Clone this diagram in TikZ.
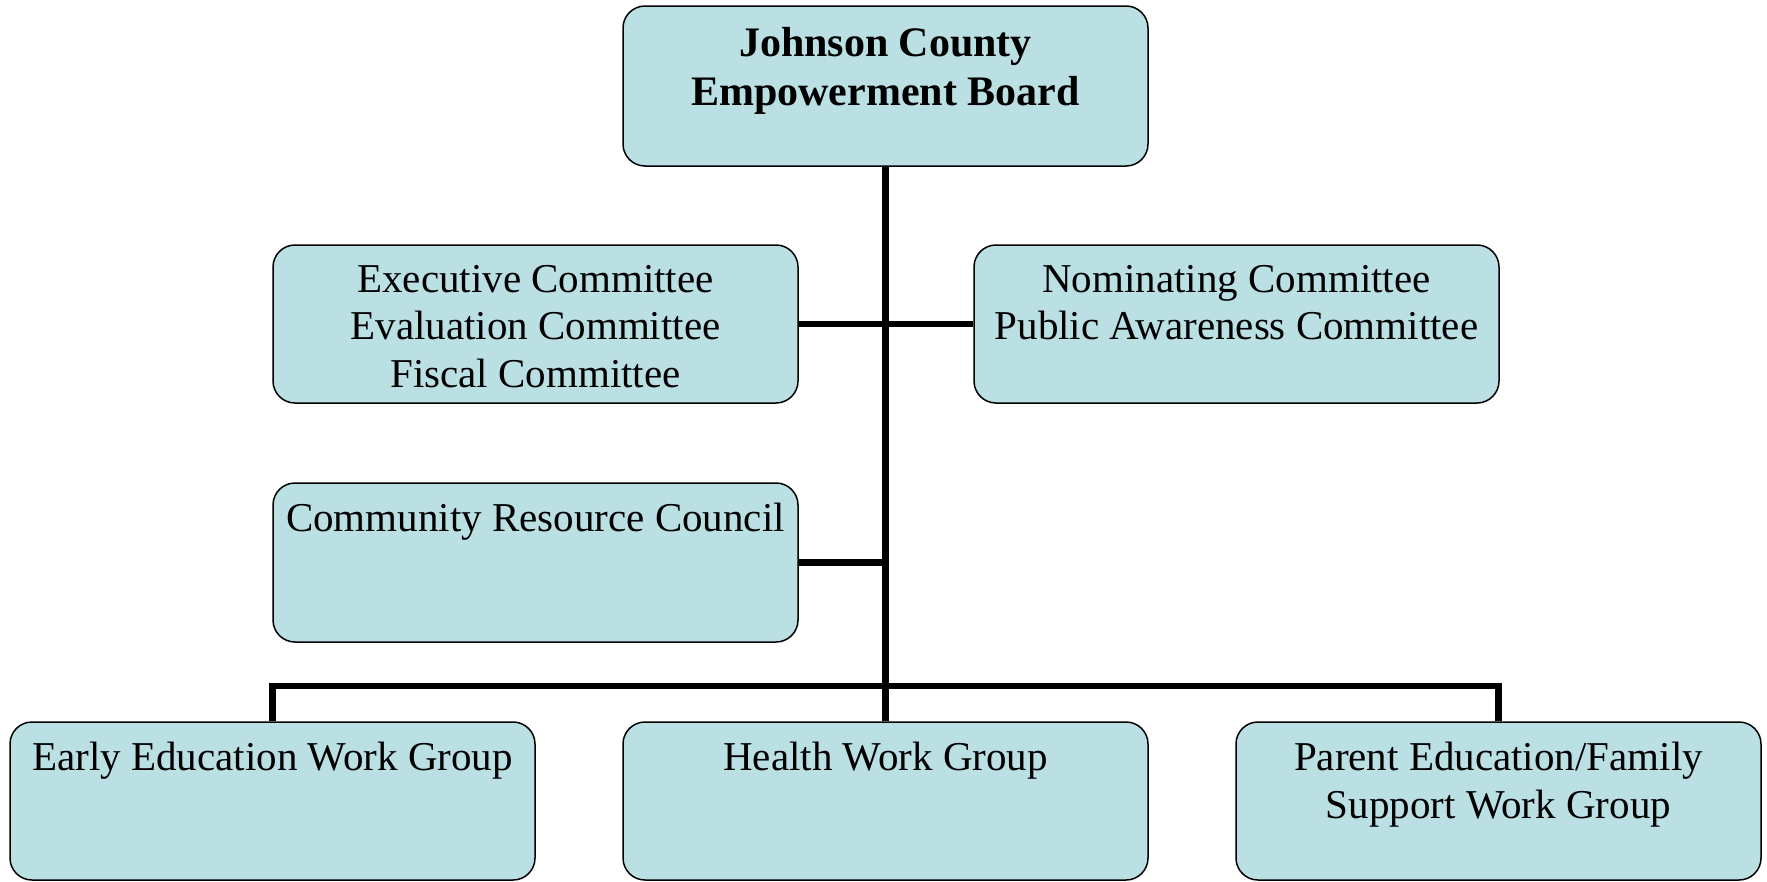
\documentclass[tikz,border=0pt]{standalone}
\usepackage{fontspec}
\setmainfont{Liberation Serif}
\definecolor{boxfill}{RGB}{186,224,228}
\begin{document}
\begin{tikzpicture}[x=1pt,y=-1pt,
  box/.style={draw=black, line width=1.5pt, fill=boxfill, rounded corners=22pt, minimum width=525pt, inner sep=0pt},
  lbl/.style={anchor=north, align=center, inner sep=0pt, font=\fontsize{41}{47.8}\selectfont},
  conn/.style={draw=black, line width=6.3pt}]
\useasboundingbox (0,0) rectangle (1767,881);
\begin{scope}
\clip (0,0) rectangle (1767,881);
\node[box, minimum height=160pt] (top) at (885.5,86) {};
\node[box, minimum height=158pt] (exec) at (535.5,324) {};
\node[box, minimum height=158pt] (nom) at (1236.5,324) {};
\node[box, minimum height=159pt] (comm) at (535.5,562.5) {};
\node[box, minimum height=158pt] (early) at (272.5,801) {};
\node[box, minimum height=158pt] (health) at (885.5,801) {};
\node[box, minimum height=158pt] (parent) at (1498.5,801) {};
\end{scope}
\node[lbl, font=\fontsize{42}{48.5}\selectfont\bfseries] (toplbl) at ([yshift=-22pt]top.north) {Johnson County\\Empowerment Board};
\node[lbl] (execlbl) at ([yshift=-20.5pt]exec.north) {Executive Committee\\Evaluation Committee\\Fiscal Committee};
\node[lbl] (nomlbl) at ([yshift=-20.5pt]nom.north) {Nominating Committee\\Public Awareness Committee};
\node[lbl] (commlbl) at ([yshift=-20.5pt]comm.north) {Community Resource Council};
\node[lbl] (earlylbl) at ([yshift=-20.5pt]early.north) {Early Education Work Group};
\node[lbl] (healthlbl) at ([yshift=-20.5pt]health.north) {Health Work Group};
\node[lbl] (parentlbl) at ([yshift=-20.5pt]parent.north) {Parent Education/Family\\Support Work Group};
\coordinate (bus) at (885.5,686);
\draw[conn] (top.south) -- (health.north);
\draw[conn] (exec.east) -- (nom.west);
\draw[conn] (comm.east) -- (comm.east -| top.south);
\draw[conn] (early.north) |- (bus) -| (parent.north);
\end{tikzpicture}
\end{document}
